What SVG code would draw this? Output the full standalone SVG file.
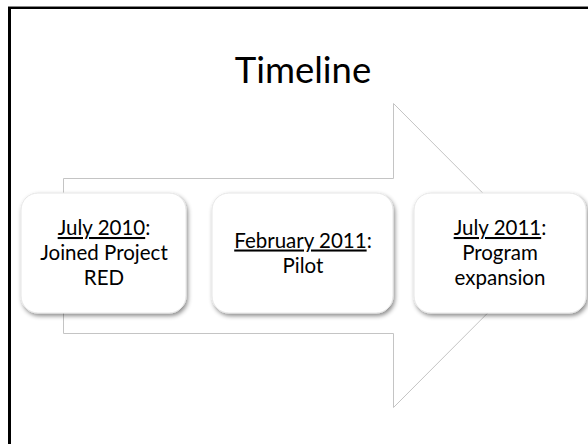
<svg xmlns="http://www.w3.org/2000/svg" width="588" height="444" viewBox="0 0 588 444">
<defs>
<filter id="sh" x="-10%" y="-10%" width="125%" height="130%">
<feDropShadow dx="1.5" dy="2.5" stdDeviation="2" flood-color="#000" flood-opacity="0.45"/>
</filter>
</defs>
<style>
.box{fill:#fff;stroke:#e6e6e6;stroke-width:1;filter:url(#sh)}
.t{font-family:Lato,"Open Sans","Liberation Sans",sans-serif;font-size:20.5px;fill:#000;text-anchor:middle}
.u{text-decoration:underline}
.arrow{fill:#fff;stroke:#c4c4c4;stroke-width:1}
</style>
<rect x="0" y="0" width="588" height="444" fill="#fff"/>
<rect x="9.5" y="7.5" width="620" height="480" fill="#fff" stroke="#000" stroke-width="3"/>
<line x1="8" y1="6.5" x2="588" y2="6.5" stroke="#888" stroke-width="1"/>
<text x="303" y="83" font-family="Lato,'Open Sans','Liberation Sans',sans-serif" font-size="36.5" text-anchor="middle" fill="#000">Timeline</text>
<g id="connectors">
<path class="arrow" d="M63.5,178.5 H393.5 V103.5 L545,255.5 L393.5,407.5 V333.5 H63.5 Z"/>
</g>
<g id="node1">
<rect class="box" x="21" y="193" width="165" height="120" rx="17"/>
<text class="t" x="104" y="235"><tspan class="u">July 2010</tspan>:</text>
<text class="t" x="104" y="260">Joined Project</text>
<text class="t" x="104" y="285">RED</text>
</g>
<g id="node2">
<rect class="box" x="212" y="193" width="181" height="120" rx="17"/>
<text class="t" x="303" y="247.5"><tspan class="u">February 2011</tspan>:</text>
<text class="t" x="303" y="272.5">Pilot</text>
</g>
<g id="node3">
<rect class="box" x="414" y="193" width="172" height="120" rx="17"/>
<text class="t" x="500" y="235"><tspan class="u">July 2011</tspan>:</text>
<text class="t" x="500" y="260">Program</text>
<text class="t" x="500" y="285">expansion</text>
</g>
</svg>
